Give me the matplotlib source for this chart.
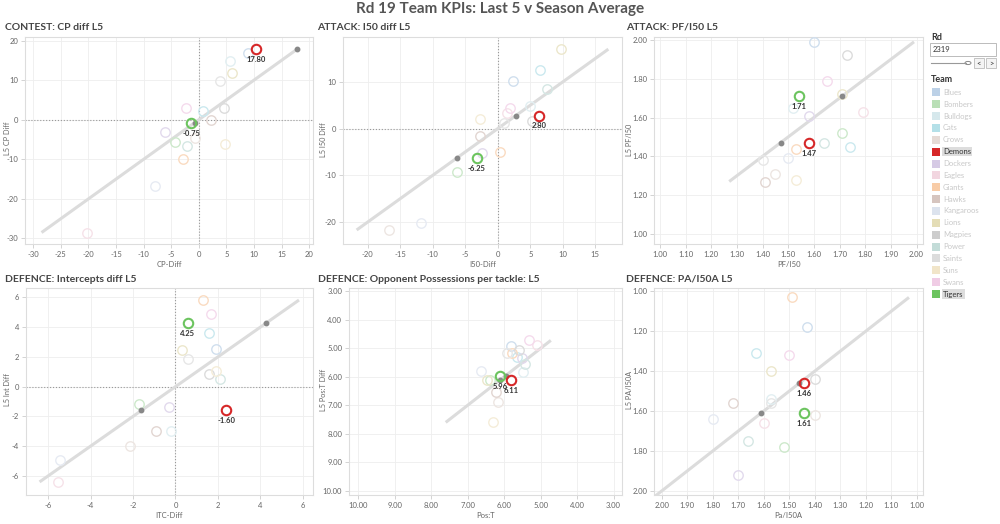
import numpy as np
import matplotlib.pyplot as plt
from matplotlib.patches import Rectangle, Circle
from matplotlib.lines import Line2D
from matplotlib.colors import to_rgb

plt.rcParams['font.family'] = ['Lato', 'DejaVu Sans']

teams = ['Blues', 'Bombers', 'Bulldogs', 'Cats', 'Crows', 'Demons', 'Dockers', 'Eagles', 'Giants',
         'Hawks', 'Kangaroos', 'Lions', 'Magpies', 'Power', 'Saints', 'Suns', 'Swans', 'Tigers']
team_colors = ['#bcd1e7', '#b9dfb6', '#d6e8ec', '#b4e0e8', '#e5dbd6', '#d62728', '#d6cae5', '#f2d6e0',
               '#f8cca7', '#d6c5bf', '#dce3ee', '#e4ddb6', '#cdcdcd', '#c3dcd8', '#dcdcdc', '#f1e5c9',
               '#f0cce5', '#6cc45f']
highlight = ['Demons', 'Tigers']

# CONTEST: CP diff
cp_x = [8.9, -4.4, 5.7, 0.7, -0.7, 10.4, -6.1, -20.3, -2.8, 2.3, -8.0, 6.0, 4.5, -2.1, 3.9, 4.7, -2.4, -1.4]
cp_y = [16.9, -5.6, 14.9, 2.1, -4.7, 17.8, -3.0, -28.5, -9.9, 0.0, -16.7, 11.9, 3.0, -6.6, 9.7, -6.2, 2.9, -0.75]
# ATTACK: I50 diff
i50_x = [2.4, -6.3, 4.9, 6.5, -16.8, 6.3, -2.4, 1.4, 0.4, -2.8, -11.8, 9.7, 5.3, 7.6, 1.0, -2.7, 1.9, -3.2]
i50_y = [10.1, -9.2, 4.9, 12.6, -21.7, 2.8, -5.3, 3.3, -5.0, -1.6, -20.1, 17.0, 1.6, 8.5, 1.2, 2.1, 4.5, -6.25]
# ATTACK: PF/I50
pf_x = [1.60, 1.71, 1.52, 1.74, 1.45, 1.58, 1.58, 1.79, 1.53, 1.41, 1.50, 1.71, 1.73, 1.64, 1.40, 1.53, 1.65, 1.54]
pf_y = [1.99, 1.52, 1.65, 1.45, 1.31, 1.47, 1.61, 1.63, 1.44, 1.27, 1.39, 1.72, 1.92, 1.47, 1.38, 1.28, 1.79, 1.71]
# DEFENCE: intercepts diff
int_x = [1.90, -1.72, -0.20, 1.58, -2.12, 2.40, -0.31, -5.53, 1.30, -0.92, -5.44, 0.30, 1.57, 2.08, 0.58, 1.90, 1.69, 0.58]
int_y = [2.55, -1.19, -2.98, 3.63, -3.98, -1.60, -1.39, -6.40, 5.82, -2.98, -4.95, 2.44, 0.85, 0.54, 1.84, 1.05, 4.86, 4.25]
# DEFENCE: opponent possessions per tackle
pos_x = [5.80, 6.39, 5.49, 5.66, 6.18, 5.80, 5.51, 5.10, 5.78, 6.21, 6.64, 6.48, 5.59, 5.43, 5.93, 6.30, 5.32, 6.11]
pos_y = [4.92, 6.12, 5.84, 5.29, 6.89, 6.11, 5.34, 4.88, 5.17, 6.53, 5.78, 6.12, 5.06, 5.56, 5.15, 7.60, 4.72, 5.96]
# DEFENCE: PA/I50A
pa_x = [1.43, 1.52, 1.57, 1.63, 1.40, 1.44, 1.70, 1.60, 1.49, 1.72, 1.80, 1.57, 1.40, 1.66, 1.57, 2.05, 1.50, 1.44]
pa_y = [1.18, 1.78, 1.54, 1.31, 1.62, 1.46, 1.92, 1.66, 1.03, 1.56, 1.64, 1.40, 1.44, 1.75, 1.56, 2.06, 1.32, 1.61]

W, H = 1000, 524
fig = plt.figure(figsize=(10, 5.24), dpi=100)
fig.patch.set_facecolor('white')


def fx(x):
    return x / W


def fy(y):
    return 1 - y / H


def faded(c, k=0.3):
    r, g, b = to_rgb(c)
    return (r + (1 - r) * k, g + (1 - g) * k, b + (1 - b) * k)


fig.text(0.5, fy(9), 'Rd 19 Team KPIs: Last 5 v Season Average', ha='center', va='center',
         fontsize=11, fontweight='bold', color='#555555')

panels = [
    dict(title='CONTEST: CP diff L5', tx=5, ty=27, lx=7, ly=138, box=(25, 37, 313, 244), x=cp_x, y=cp_y,
         xlim=(-31.5, 20.7), ylim=(-31.4, 20.9), xt=np.arange(-30, 21, 5), yt=np.arange(-30, 21, 10),
         fmt='{:g}', xlab='CP-Diff', ylab='L5 CP Diff', zero=True),
    dict(title='ATTACK: I50 diff L5', tx=317, ty=27, lx=323, ly=140, box=(343, 37, 622, 244), x=i50_x, y=i50_y,
         xlim=(-23.8, 19.1), ylim=(-24.7, 19.6), xt=np.arange(-20, 16, 5), yt=np.arange(-20, 11, 10),
         fmt='{:g}', xlab='I50-Diff', ylab='L5 I50 Diff', zero=True),
    dict(title='ATTACK: PF/I50 L5', tx=626, ty=27, lx=630, ly=140, box=(654, 37, 923, 244), x=pf_x, y=pf_y,
         xlim=(0.977, 2.025), ylim=(0.948, 2.015), xt=np.arange(1.0, 2.01, 0.1), yt=np.arange(1.0, 2.01, 0.2),
         fmt='{:.2f}', xlab='PF/I50', ylab='L5 PF/I50', zero=False),
    dict(title='DEFENCE: Intercepts diff L5', tx=5, ty=279, lx=7, ly=390, box=(26, 288, 313, 495), x=int_x, y=int_y,
         xlim=(-7.04, 6.48), ylim=(-7.28, 6.63), xt=np.arange(-6, 7, 2), yt=np.arange(-6, 7, 2),
         fmt='{:g}', xlab='ITC-Diff', ylab='L5 Int Diff', zero=True),
    dict(title='DEFENCE: Opponent Possessions per tackle: L5', tx=318, ty=279, lx=323, ly=390,
         box=(349, 288, 622, 495), x=pos_x, y=pos_y, xlim=(10.25, 2.77), ylim=(10.15, 2.88),
         xt=np.arange(3, 11, 1), yt=np.arange(3, 11, 1), fmt='{:.2f}', xlab='Pos:T', ylab='L5 Pos:T Diff',
         zero=False),
    dict(title='DEFENCE: PA/I50A L5', tx=626, ty=279, lx=630, ly=390, box=(654, 288, 923, 495), x=pa_x, y=pa_y,
         xlim=(2.03, 0.975), ylim=(2.02, 0.983), xt=np.arange(1.0, 2.01, 0.1), yt=np.arange(1.0, 2.01, 0.2),
         fmt='{:.2f}', xlab='Pa/I50A', ylab='L5 PA/I50A', zero=False),
]

for p in panels:
    l, t, r, b = p['box']
    ax = fig.add_axes([fx(l), fy(b), (r - l) / W, (b - t) / H])
    fig.text(fx(p['tx']), fy(p['ty']), p['title'], ha='left', va='center', fontsize=7.5,
             fontweight='bold', color='#444444')
    ax.set_xlim(*p['xlim'])
    ax.set_ylim(*p['ylim'])
    ax.set_xticks(p['xt'])
    ax.set_yticks(p['yt'])
    ax.set_xticklabels([p['fmt'].format(round(v, 2)) for v in p['xt']])
    ax.set_yticklabels([p['fmt'].format(round(v, 2)) for v in p['yt']])
    ax.tick_params(labelsize=5.5, colors='#cccccc', labelcolor='#666666', length=3, width=0.6, pad=2)
    ax.grid(True, color='#eeeeee', linewidth=0.6)
    ax.set_axisbelow(True)
    for s in ax.spines.values():
        s.set_color('#dddddd')
        s.set_linewidth(0.8)
    ax.set_xlabel(p['xlab'], fontsize=5.5, color='#666666', labelpad=2)
    fig.text(fx(p['lx']), fy(p['ly']), p['ylab'], rotation=90, ha='center', va='center',
             fontsize=5.3, color='#666666')
    if p['zero']:
        ax.axvline(0, color='#999999', linestyle=':', linewidth=0.8, zorder=1)
        ax.axhline(0, color='#999999', linestyle=':', linewidth=0.8, zorder=1)

    xs = np.array(p['x'])
    ys = np.array(p['y'])
    lo = min(xs.min(), ys.min())
    hi = max(xs.max(), ys.max())
    ax.plot([lo, hi], [lo, hi], color='#dcdcdc', linewidth=2.2, solid_capstyle='butt', zorder=2)

    for team, c, xv, yv in zip(teams, team_colors, xs, ys):
        if team in highlight:
            continue
        ax.plot(xv, yv, 'o', ms=6.8, mfc='none', mec=faded(c), mew=1.0, zorder=3)
    for team in highlight:
        i = teams.index(team)
        ax.plot(ys[i], ys[i], 'o', ms=3.2, color='#888888', zorder=4)
        ax.plot(xs[i], ys[i], 'o', ms=6.8, mfc='none', mec=team_colors[i], mew=1.5, zorder=5)
        ax.annotate('{:.2f}'.format(ys[i]), (xs[i], ys[i]), xytext=(0, -5), textcoords='offset points',
                    ha='center', va='top', fontsize=5.5, fontweight='bold', color='#333333', zorder=6)

# right-hand filter and legend
fig.text(fx(931), fy(37), 'Rd', ha='left', va='center', fontsize=6.5, fontweight='bold', color='#333333')
fig.add_artist(Rectangle((fx(930), fy(56)), 66 / W, 13 / H, transform=fig.transFigure,
                         facecolor='white', edgecolor='#bbbbbb', linewidth=0.7))
fig.text(fx(933), fy(49.5), '2319', ha='left', va='center', fontsize=5.5, color='#333333')
fig.add_artist(Line2D([fx(931), fx(966)], [fy(63), fy(63)], transform=fig.transFigure,
                      color='#999999', linewidth=0.8))
fig.add_artist(Circle((fx(968), fy(63)), 3 / W, transform=fig.transFigure,
                      facecolor='white', edgecolor='#888888', linewidth=0.7))
for bx, sym in [(974, '<'), (986, '>')]:
    fig.add_artist(Rectangle((fx(bx), fy(68)), 10 / W, 10 / H, transform=fig.transFigure,
                             facecolor='#f4f4f4', edgecolor='#bbbbbb', linewidth=0.6))
    fig.text(fx(bx + 5), fy(63), sym, ha='center', va='center', fontsize=5.5, color='#333333')

fig.text(fx(931), fy(79), 'Team', ha='left', va='center', fontsize=6.5, fontweight='bold', color='#333333')
for i, (team, c) in enumerate(zip(teams, team_colors)):
    yc = 92.3 + i * 11.87
    fig.add_artist(Rectangle((fx(932), fy(yc + 4)), 8 / W, 8 / H, transform=fig.transFigure,
                             facecolor=c, edgecolor='none'))
    if team in highlight:
        fig.text(fx(943), fy(yc), team, ha='left', va='center', fontsize=5.5, color='#333333',
                 bbox=dict(facecolor='#dddddd', edgecolor='none', pad=0.8))
    else:
        fig.text(fx(943), fy(yc), team, ha='left', va='center', fontsize=5.5, color='#c8c8c8')

fig.savefig('out.png', dpi=100, facecolor='white')
